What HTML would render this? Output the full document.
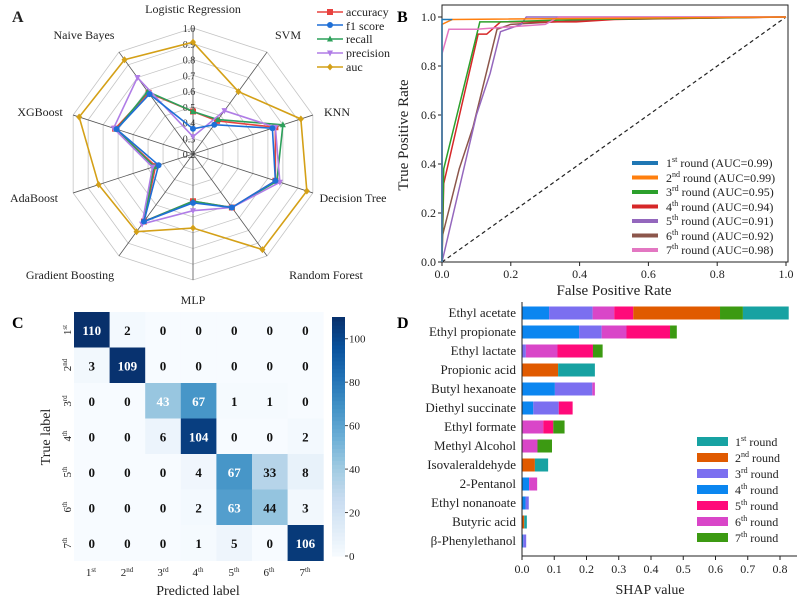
<!DOCTYPE html>
<html><head><meta charset="utf-8"><style>
html,body{margin:0;padding:0;background:#fff;}
svg{display:block;font-family:"Liberation Serif",serif;}
</style></head><body>
<svg id="s" width="800" height="606" viewBox="0 0 800 606" xmlns="http://www.w3.org/2000/svg">
<rect width="800" height="606" fill="#fff"/>
<g id="A"></g><g id="B"></g><g id="C"></g><g id="D"></g>
<!-- static text -->
<g font-size="12" fill="#222">
<text x="12" y="22" font-size="16" font-weight="bold">A</text>
<text x="193" y="13" text-anchor="middle">Logistic Regression</text>
<text x="288" y="39" text-anchor="middle">SVM</text>
<text x="337" y="116" text-anchor="middle">KNN</text>
<text x="353" y="202" text-anchor="middle">Decision Tree</text>
<text x="326" y="279" text-anchor="middle">Random Forest</text>
<text x="193" y="304" text-anchor="middle">MLP</text>
<text x="70" y="279" text-anchor="middle">Gradient Boosting</text>
<text x="34" y="202" text-anchor="middle">AdaBoost</text>
<text x="40" y="116" text-anchor="middle">XGBoost</text>
<text x="84" y="39" text-anchor="middle">Naive Bayes</text>
</g>
<g font-size="12" fill="#222">
<text x="346" y="16">accuracy</text>
<text x="346" y="30">f1 score</text>
<text x="346" y="43">recall</text>
<text x="346" y="57">precision</text>
<text x="346" y="71">auc</text>
</g>
<g font-size="16" font-weight="bold"><text x="397" y="22">B</text><text x="12" y="328">C</text><text x="397" y="328">D</text></g>
<g font-size="15" fill="#222">
<text x="614" y="295" text-anchor="middle">False Positive Rate</text>
<text transform="translate(408,135) rotate(-90)" text-anchor="middle">True Positive Rate</text>
<text x="198" y="595" text-anchor="middle" font-size="14">Predicted label</text>
<text transform="translate(50,437) rotate(-90)" text-anchor="middle" font-size="14">True label</text>
<text x="650" y="594" text-anchor="middle" font-size="14">SHAP value</text>
</g>
<g font-size="12" fill="#222">
<text x="666" y="167">1<tspan font-size="8" dy="-5">st</tspan><tspan dy="5"> round (AUC=0.99)</tspan></text>
<text x="666" y="182">2<tspan font-size="8" dy="-5">nd</tspan><tspan dy="5"> round (AUC=0.99)</tspan></text>
<text x="666" y="196">3<tspan font-size="8" dy="-5">rd</tspan><tspan dy="5"> round (AUC=0.95)</tspan></text>
<text x="666" y="211">4<tspan font-size="8" dy="-5">th</tspan><tspan dy="5"> round (AUC=0.94)</tspan></text>
<text x="666" y="225">5<tspan font-size="8" dy="-5">th</tspan><tspan dy="5"> round (AUC=0.91)</tspan></text>
<text x="666" y="240">6<tspan font-size="8" dy="-5">th</tspan><tspan dy="5"> round (AUC=0.92)</tspan></text>
<text x="666" y="254">7<tspan font-size="8" dy="-5">th</tspan><tspan dy="5"> round (AUC=0.98)</tspan></text>
</g>
<g font-size="12" fill="#222">
<text x="735" y="446">1<tspan font-size="8" dy="-5">st</tspan><tspan dy="5"> round</tspan></text>
<text x="735" y="462">2<tspan font-size="8" dy="-5">nd</tspan><tspan dy="5"> round</tspan></text>
<text x="735" y="478">3<tspan font-size="8" dy="-5">rd</tspan><tspan dy="5"> round</tspan></text>
<text x="735" y="494">4<tspan font-size="8" dy="-5">th</tspan><tspan dy="5"> round</tspan></text>
<text x="735" y="510">5<tspan font-size="8" dy="-5">th</tspan><tspan dy="5"> round</tspan></text>
<text x="735" y="526">6<tspan font-size="8" dy="-5">th</tspan><tspan dy="5"> round</tspan></text>
<text x="735" y="542">7<tspan font-size="8" dy="-5">th</tspan><tspan dy="5"> round</tspan></text>
</g>
<g font-size="13" fill="#222" text-anchor="end">
<text x="516" y="317">Ethyl acetate</text>
<text x="516" y="336">Ethyl propionate</text>
<text x="516" y="355">Ethyl lactate</text>
<text x="516" y="374">Propionic acid</text>
<text x="516" y="393">Butyl hexanoate</text>
<text x="516" y="412">Diethyl succinate</text>
<text x="516" y="431">Ethyl formate</text>
<text x="516" y="450">Methyl Alcohol</text>
<text x="516" y="469">Isovaleraldehyde</text>
<text x="516" y="488">2-Pentanol</text>
<text x="516" y="507">Ethyl nonanoate</text>
<text x="516" y="526">Butyric acid</text>
<text x="516" y="545">β-Phenylethanol</text>
</g>
<g font-size="11" fill="#222" text-anchor="middle">
<text x="91" y="576">1<tspan font-size="7" dy="-4">st</tspan></text>
<text x="127" y="576">2<tspan font-size="7" dy="-4">nd</tspan></text>
<text x="163" y="576">3<tspan font-size="7" dy="-4">rd</tspan></text>
<text x="198" y="576">4<tspan font-size="7" dy="-4">th</tspan></text>
<text x="234" y="576">5<tspan font-size="7" dy="-4">th</tspan></text>
<text x="269" y="576">6<tspan font-size="7" dy="-4">th</tspan></text>
<text x="305" y="576">7<tspan font-size="7" dy="-4">th</tspan></text>
<text transform="translate(71,330) rotate(-90)">1<tspan font-size="7" dy="-4">st</tspan></text>
<text transform="translate(71,365) rotate(-90)">2<tspan font-size="7" dy="-4">nd</tspan></text>
<text transform="translate(71,401) rotate(-90)">3<tspan font-size="7" dy="-4">rd</tspan></text>
<text transform="translate(71,436) rotate(-90)">4<tspan font-size="7" dy="-4">th</tspan></text>
<text transform="translate(71,472) rotate(-90)">5<tspan font-size="7" dy="-4">th</tspan></text>
<text transform="translate(71,507) rotate(-90)">6<tspan font-size="7" dy="-4">th</tspan></text>
<text transform="translate(71,543) rotate(-90)">7<tspan font-size="7" dy="-4">th</tspan></text>
</g>
</svg>
<script>
var NS="http://www.w3.org/2000/svg";
function el(p,t,a,txt){var e=document.createElementNS(NS,t);for(var k in a)e.setAttribute(k,a[k]);if(txt!==undefined)e.textContent=txt;document.getElementById(p).appendChild(e);return e;}
/* ---- A radar ---- */
var cx=193,cy=154,R=126;
function pt(i,v){var a=-Math.PI/2+i*Math.PI/5,r=(v-0.2)/0.8*R;return [cx+r*Math.cos(a),cy+r*Math.sin(a)];}
for(var l=3;l<=10;l++){var ps=[];for(var i=0;i<10;i++)ps.push(pt(i,l/10).join(","));el("A","polygon",{points:ps.join(" "),fill:"none",stroke:"#c4c4c4","stroke-width":0.8});}
for(var i=0;i<10;i++){var p=pt(i,1.0);el("A","line",{x1:cx,y1:cy,x2:p[0],y2:p[1],stroke:"#555","stroke-width":0.8});}
for(var l=2;l<=10;l++){var p=pt(0,l/10);el("A","text",{x:189,y:p[1]+4,"font-size":10,"text-anchor":"middle",fill:"#333"},(l/10).toFixed(1));}
var S=[
["#e8423f",[0.47,0.46,0.75,0.75,0.62,0.50,0.73,0.45,0.72,0.68],"sq"],
["#2ca05a",[0.47,0.47,0.80,0.76,0.62,0.50,0.73,0.46,0.71,0.69],"tri"],
["#b07de6",[0.31,0.54,0.75,0.78,0.62,0.56,0.75,0.47,0.73,0.80],"dtri"],
["#1f6fd6",[0.36,0.43,0.73,0.75,0.62,0.51,0.73,0.43,0.71,0.67],"c"],
["#d4a017",[0.91,0.69,0.92,0.96,0.95,0.67,0.81,0.83,0.96,0.94],"d"]];
function mark(g,x,y,c,t,s){s=s||3;
 if(t=="sq")el(g,"rect",{x:x-s,y:y-s,width:2*s,height:2*s,fill:c});
 else if(t=="c")el(g,"circle",{cx:x,cy:y,r:s,fill:c});
 else if(t=="tri")el(g,"polygon",{points:[x,y-s-0.5,x+s,y+s-0.5,x-s,y+s-0.5].join(","),fill:c});
 else if(t=="dtri")el(g,"polygon",{points:[x-s,y-s+0.5,x+s,y-s+0.5,x,y+s+0.5].join(","),fill:c});
 else el(g,"polygon",{points:[x,y-s-0.5,x+s,y,x,y+s+0.5,x-s,y].join(","),fill:c});}
S.forEach(function(s){var ps=[];for(var i=0;i<10;i++)ps.push(pt(i,s[1][i]));
 el("A","polygon",{points:ps.map(function(p){return p.join(",")}).join(" "),fill:"none",stroke:s[0],"stroke-width":1.6});
 ps.forEach(function(p){mark("A",p[0],p[1],s[0],s[2]);});});
[["#e8423f","sq",12],["#1f6fd6","c",25],["#2ca05a","tri",39],["#b07de6","dtri",53],["#d4a017","d",67]].forEach(function(m){
 el("A","line",{x1:317,y1:m[2],x2:343,y2:m[2],stroke:m[0],"stroke-width":1.6});mark("A",330,m[2],m[0],m[1]);});
/* ---- B ROC ---- */
var x0=442,x1=786,y0=262,y1=17;
function X(v){return x0+v*(x1-x0);}function Y(v){return y0-v*(y0-y1);}
el("B","rect",{x:x0,y:5,width:x1-x0+2,height:y0-5,fill:"none",stroke:"#222","stroke-width":1});
for(var k=0;k<=5;k++){var v=k/5;
 el("B","line",{x1:X(v),y1:y0,x2:X(v),y2:y0+4,stroke:"#222"});
 el("B","text",{x:X(v),y:y0+16,"font-size":12,"text-anchor":"middle",fill:"#222"},v.toFixed(1));
 el("B","line",{x1:x0-4,y1:Y(v),x2:x0,y2:Y(v),stroke:"#222"});
 el("B","text",{x:x0-6,y:Y(v)+4,"font-size":12,"text-anchor":"end",fill:"#222"},v.toFixed(1));}
el("B","line",{x1:X(0),y1:Y(0),x2:X(1),y2:Y(1),stroke:"#222","stroke-dasharray":"4,3","stroke-width":1.2});
var C=[
["#8c564b",[[0,0.1],[0.05,0.38],[0.09,0.55],[0.16,0.95],[0.2,0.97],[0.45,0.99],[1,1]]],
["#9467bd",[[0,0],[0.05,0.3],[0.1,0.6],[0.14,0.77],[0.17,0.94],[0.23,0.97],[0.245,1.0],[1,1]]],
["#d62728",[[0,0],[0.005,0.32],[0.105,0.93],[0.13,0.93],[0.17,0.98],[0.39,0.98],[0.5,0.99],[1,1]]],
["#2ca02c",[[0,0],[0.005,0.38],[0.11,0.98],[0.17,0.98],[0.4,0.99],[1,1]]],
["#e377c2",[[0,0],[0,0.85],[0.02,0.95],[0.1,0.95],[0.3,0.97],[0.34,1.0],[1,1]]],
["#ff7f0e",[[0,0],[0,0.97],[0.03,0.99],[1,1]]],
["#1f77b4",[[0,0],[0,0.99],[0.01,0.99],[0.03,0.99]]]];
C.forEach(function(c){el("B","polyline",{points:c[1].map(function(p){return X(p[0])+","+Y(p[1])}).join(" "),fill:"none",stroke:c[0],"stroke-width":1.5});});
["#1f77b4","#ff7f0e","#2ca02c","#d62728","#9467bd","#8c564b","#e377c2"].forEach(function(c,i){
 var y=163+i*14.5;el("B","line",{x1:632,y1:y,x2:658,y2:y,stroke:c,"stroke-width":4});});
/* ---- C confusion ---- */
var M=[[110,2,0,0,0,0,0],[3,109,0,0,0,0,0],[0,0,43,67,1,1,0],[0,0,6,104,0,0,2],[0,0,0,4,67,33,8],[0,0,0,2,63,44,3],[0,0,0,1,5,0,106]];
var stops=["#f7fbff","#deebf7","#c6dbef","#9ecae1","#6baed6","#4292c6","#2171b5","#08519c","#08306b"];
function hx(h){return [parseInt(h.substr(1,2),16),parseInt(h.substr(3,2),16),parseInt(h.substr(5,2),16)];}
function blue(t){t=Math.max(0,Math.min(1,t))*8;var i=Math.min(7,Math.floor(t)),f=t-i,a=hx(stops[i]),b=hx(stops[i+1]);
 return "rgb("+a.map(function(v,k){return Math.round(v+(b[k]-v)*f)}).join(",")+")";}
var mx=74,my=312,cw=35.6,ch=35.5;
var white={43:1,67:1,63:1,104:1,109:1,110:1,106:1};
for(var r=0;r<7;r++)for(var c=0;c<7;c++){var v=M[r][c];
 el("C","rect",{x:mx+c*cw,y:my+r*ch,width:cw+0.5,height:ch+0.5,fill:blue(v/110)});
 el("C","text",{x:mx+c*cw+cw/2,y:my+r*ch+ch/2+5,"font-size":13,"font-weight":"bold","text-anchor":"middle",fill:white[v]?"#fff":"#111"},v);}
for(var k=0;k<60;k++){el("C","rect",{x:332,y:556-(k+1)*239/60,width:13,height:239/60+0.5,fill:blue((k+0.5)/60)});}
[0,20,40,60,80,100].forEach(function(v){var y=556-v/110*239;
 el("C","line",{x1:345,y1:y,x2:348,y2:y,stroke:"#444"});
 el("C","text",{x:349,y:y+4,"font-size":11,fill:"#222"},v);});
/* ---- D shap ---- */
var cols={1:"#17a2a2",2:"#e05a00",3:"#7b6ff0",4:"#0b86f0",5:"#ff0a7a",6:"#d946c8",7:"#3c9a12"};
var B=[[[4,.084],[3,.219],[6,.286],[5,.345],[2,.614],[7,.685],[1,.827]],
[[4,.177],[3,.247],[6,.324],[5,.459],[7,.48]],
[[3,.012],[6,.11],[5,.22],[7,.25]],
[[2,.112],[1,.226]],
[[4,.102],[3,.218],[6,.226]],
[[4,.035],[3,.114],[5,.157]],
[[6,.066],[5,.097],[7,.132]],
[[6,.048],[7,.093]],
[[2,.04],[1,.081]],
[[4,.022],[6,.047]],
[[4,.011],[3,.021]],
[[2,.007],[1,.015]],
[[4,.004],[3,.013]]];
var dx0=522,sc=322.5;
B.forEach(function(row,i){var yc=313+i*19,prev=0;row.forEach(function(s){
 el("D","rect",{x:dx0+prev*sc,y:yc-6.5,width:(s[1]-prev)*sc,height:13,fill:cols[s[0]]});prev=s[1];});});
el("D","line",{x1:dx0,y1:302,x2:dx0,y2:556,stroke:"#222"});
el("D","line",{x1:dx0,y1:556,x2:797,y2:556,stroke:"#222"});
for(var k=0;k<=8;k++){var x=dx0+k/10*sc;el("D","line",{x1:x,y1:556,x2:x,y2:560,stroke:"#222"});
 el("D","text",{x:x,y:573,"font-size":12,"text-anchor":"middle",fill:"#222"},(k/10).toFixed(1));}
[1,2,3,4,5,6,7].forEach(function(k,i){el("D","rect",{x:697,y:437+i*16,width:31,height:9,fill:cols[k]});});
</script>
</body></html>
